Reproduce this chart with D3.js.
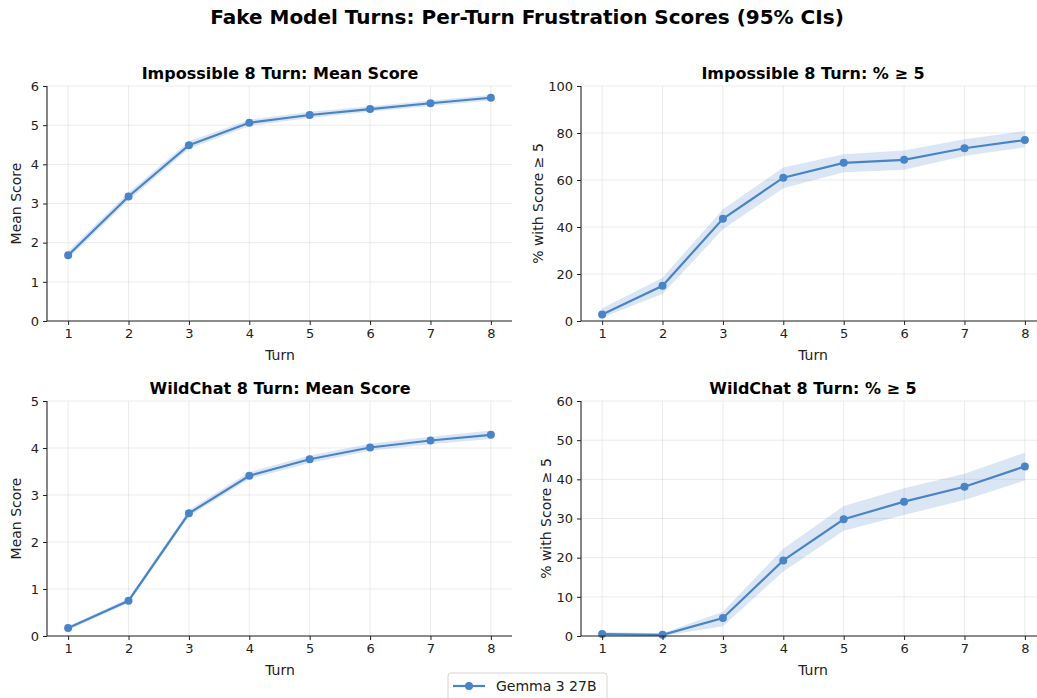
<!DOCTYPE html>
<html><head><meta charset="utf-8">
<script src="https://cdn.jsdelivr.net/npm/d3@7"></script>
<style>body{margin:0;background:#fff}svg{font-family:"DejaVu Sans",sans-serif}</style>
</head><body><svg id="c" width="1037" height="698"></svg>
<script>
const turns = [1,2,3,4,5,6,7,8];
const seriesName = "Gemma 3 27B";
const titles = ["Impossible 8 Turn: Mean Score","Impossible 8 Turn: % \u2265 5","WildChat 8 Turn: Mean Score","WildChat 8 Turn: % \u2265 5"];
const yLabels = ["Mean Score","% with Score \u2265 5","Mean Score","% with Score \u2265 5"];
const yTicks = [[0,1,2,3,4,5,6],[0,20,40,60,80,100],[0,1,2,3,4,5],[0,10,20,30,40,50,60]];
const impMean = [1.68,3.18,4.49,5.06,5.26,5.41,5.56,5.70];
const impMeanLo = [1.59,3.08,4.40,4.98,5.18,5.34,5.49,5.63];
const impMeanHi = [1.78,3.28,4.59,5.14,5.34,5.48,5.63,5.77];
const impPct = [2.8,15.0,43.5,61.0,67.3,68.6,73.5,77.0];
const impPctLo = [1.5,11.5,39.0,56.5,63.3,64.4,70.2,73.9];
const impPctHi = [5.4,18.4,47.6,65.3,71.0,72.6,77.3,80.8];
const wcMean = [0.17,0.75,2.61,3.41,3.76,4.01,4.16,4.28];
const wcMeanLo = [0.13,0.70,2.55,3.34,3.68,3.94,4.08,4.19];
const wcMeanHi = [0.21,0.80,2.68,3.49,3.84,4.09,4.24,4.37];
const wcPct = [0.5,0.3,4.6,19.3,29.8,34.3,38.1,43.3];
const wcPctLo = [0.1,0.0,2.5,16.5,26.9,30.9,34.7,39.7];
const wcPctHi = [1.0,0.7,6.2,22.3,33.2,37.7,41.4,46.8];

const panels = [
  {m:impMean,lo:impMeanLo,hi:impMeanHi,y:[0,6]},
  {m:impPct,lo:impPctLo,hi:impPctHi,y:[0,100]},
  {m:wcMean,lo:wcMeanLo,hi:wcMeanHi,y:[0,5]},
  {m:wcPct,lo:wcPctLo,hi:wcPctHi,y:[0,60]}
];
const boxes = [
  {l:47,r:512,t:86,b:321,yl:16},
  {l:581,r:1046,t:86,b:321,yl:538},
  {l:47,r:512,t:401,b:636,yl:16},
  {l:581,r:1046,t:401,b:636,yl:546}
];
const col = "#4a84c8";
const svg = d3.select("#c");
svg.append("text").attr("x",527).attr("y",24).attr("text-anchor","middle")
  .attr("font-size",20).attr("font-weight","bold").text("Fake Model Turns: Per-Turn Frustration Scores (95% CIs)");

panels.forEach((p,i)=>{
  const b = boxes[i];
  const x = d3.scaleLinear().domain([0.65,8.35]).range([b.l,b.r]);
  const y = d3.scaleLinear().domain(p.y).range([b.b,b.t]);
  const g = svg.append("g");
  g.selectAll(".gx").data(turns).join("line").attr("x1",d=>x(d)).attr("x2",d=>x(d))
    .attr("y1",b.t).attr("y2",b.b).attr("stroke","#b0b0b0").attr("stroke-opacity",0.3).attr("stroke-width",0.8);
  g.selectAll(".gy").data(yTicks[i]).join("line").attr("y1",d=>y(d)).attr("y2",d=>y(d))
    .attr("x1",b.l).attr("x2",b.r).attr("stroke","#b0b0b0").attr("stroke-opacity",0.3).attr("stroke-width",0.8);
  const area = d3.area().x((d,j)=>x(turns[j])).y0((d,j)=>y(p.lo[j])).y1((d,j)=>y(p.hi[j]));
  g.append("path").attr("d",area(p.m)).attr("fill",col).attr("fill-opacity",0.2);
  const line = d3.line().x((d,j)=>x(turns[j])).y(d=>y(d));
  g.append("path").attr("d",line(p.m)).attr("fill","none").attr("stroke",col).attr("stroke-width",2.2);
  g.selectAll("circle").data(p.m).join("circle").attr("cx",(d,j)=>x(turns[j])).attr("cy",d=>y(d)).attr("r",4).attr("fill",col);
  const xa = g.append("g").attr("transform",`translate(0,${b.b})`).call(d3.axisBottom(x).tickValues(turns).tickSize(4).tickPadding(4).tickFormat(d3.format("d")));
  const ya = g.append("g").attr("transform",`translate(${b.l},0)`).call(d3.axisLeft(y).tickValues(yTicks[i]).tickSize(4).tickPadding(4).tickFormat(d3.format("d")));
  [xa,ya].forEach(a=>{a.selectAll("text").attr("font-size",13).attr("fill","#222").attr("font-family","DejaVu Sans");
    a.select(".domain").attr("stroke","#222").attr("stroke-width",1.1);
    a.selectAll(".tick line").attr("stroke","#222");});
  xa.select(".domain").attr("d",`M${b.l},0H${b.r}`);
  ya.select(".domain").attr("d",`M0,${b.b}V${b.t}`);
  g.append("text").attr("y",b.b+39).attr("text-anchor","middle").attr("font-size",14).attr("fill","#222")
    .attr("x", i%2 ? 813 : 280).text("Turn");
  g.append("text").attr("transform",`translate(${b.yl+5},${(b.t+b.b)/2}) rotate(-90)`).attr("text-anchor","middle").attr("font-size",14).attr("fill","#222").text(yLabels[i]);
  g.append("text").attr("x", i%2 ? 813 : 280).attr("y",b.t-7).attr("text-anchor","middle").attr("font-size",16).attr("font-weight","bold").text(titles[i]);
});

const lg = svg.append("g").attr("transform","translate(448,673)");
lg.append("rect").attr("x",0).attr("y",0).attr("width",159).attr("height",30).attr("rx",3).attr("fill","#fff").attr("stroke","#d5d5d5");
lg.append("line").attr("x1",5).attr("x2",37).attr("y1",13).attr("y2",13).attr("stroke",col).attr("stroke-width",2.2);
lg.append("circle").attr("cx",21).attr("cy",13).attr("r",4).attr("fill",col);
lg.append("text").attr("x",48).attr("y",18).attr("font-size",14).attr("fill","#222").text(seriesName);
</script></body></html>
